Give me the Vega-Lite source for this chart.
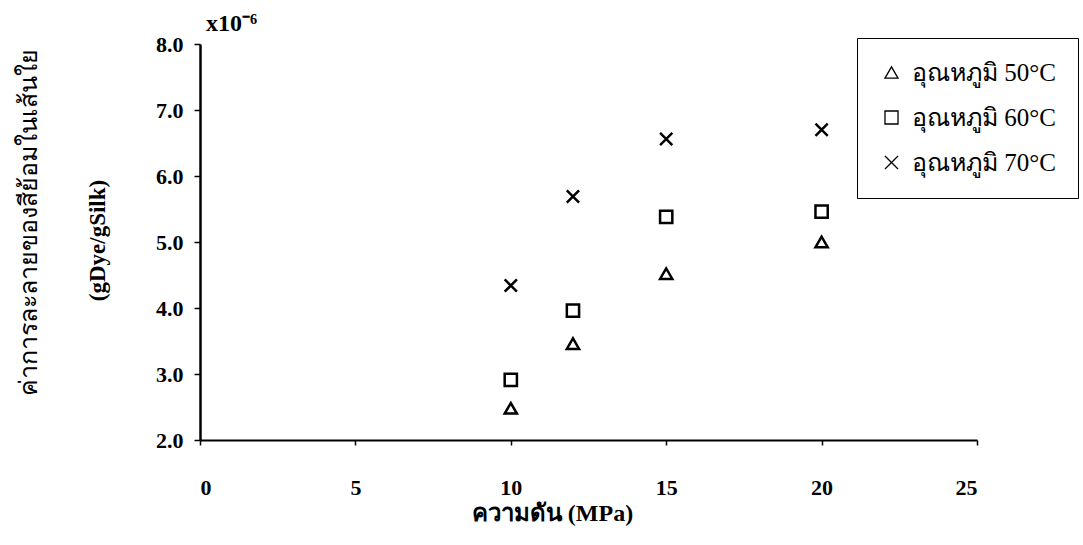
{
  "$schema": "https://vega.github.io/schema/vega-lite/v6.json",
  "width": 777,
  "height": 396,
  "autosize": {"type": "none"},
  "padding": {"left": 200, "top": 44, "right": 106, "bottom": 105},
  "background": "white",
  "title": {
    "text": "x10⁻⁶",
    "anchor": "start",
    "frame": "group",
    "font": "Liberation Serif",
    "fontSize": 24,
    "fontWeight": "bold",
    "color": "black",
    "offset": 10,
    "dx": 6,
    "dy": 13
  },
  "data": {
    "values": [
      {"pressure": 10, "solubility": 2.48, "series": "อุณหภูมิ 50°C"},
      {"pressure": 12, "solubility": 3.46, "series": "อุณหภูมิ 50°C"},
      {"pressure": 15, "solubility": 4.52, "series": "อุณหภูมิ 50°C"},
      {"pressure": 20, "solubility": 5.0, "series": "อุณหภูมิ 50°C"},
      {"pressure": 10, "solubility": 2.91, "series": "อุณหภูมิ 60°C"},
      {"pressure": 12, "solubility": 3.96, "series": "อุณหภูมิ 60°C"},
      {"pressure": 15, "solubility": 5.38, "series": "อุณหภูมิ 60°C"},
      {"pressure": 20, "solubility": 5.46, "series": "อุณหภูมิ 60°C"},
      {"pressure": 10, "solubility": 4.34, "series": "อุณหภูมิ 70°C"},
      {"pressure": 12, "solubility": 5.69, "series": "อุณหภูมิ 70°C"},
      {"pressure": 15, "solubility": 6.56, "series": "อุณหภูมิ 70°C"},
      {"pressure": 20, "solubility": 6.7, "series": "อุณหภูมิ 70°C"}
    ]
  },
  "encoding": {
    "x": {
      "field": "pressure",
      "type": "quantitative",
      "scale": {"domain": [0, 25], "nice": false},
      "axis": {
        "values": [0, 5, 10, 15, 20, 25],
        "title": "ความดัน (MPa)",
        "grid": false,
        "domainColor": "black",
        "domainWidth": 2,
        "tickColor": "black",
        "tickWidth": 1.5,
        "tickSize": 5,
        "labelFont": "Liberation Serif",
        "labelFontWeight": "bold",
        "labelFontSize": 22,
        "labelColor": "black",
        "labelPadding": 32,
        "titleFont": "Liberation Serif",
        "titleFontWeight": "bold",
        "titleFontSize": 24,
        "titleColor": "black",
        "titleX": 352,
        "titlePadding": 3
      }
    }
  },
  "layer": [
    {
      "mark": {"type": "point", "filled": false, "stroke": "black", "strokeWidth": 2.5, "opacity": 1, "size": 150},
      "encoding": {
        "y": {
          "field": "solubility",
          "type": "quantitative",
          "scale": {"domain": [2, 8], "nice": false, "zero": false},
          "axis": {
            "orient": "left",
            "values": [2, 3, 4, 5, 6, 7, 8],
            "format": ".1f",
            "title": "(gDye/gSilk)",
            "grid": false,
            "domainColor": "black",
            "domainWidth": 2.5,
            "tickColor": "black",
            "tickWidth": 1.5,
            "tickSize": 6,
            "labelFont": "Liberation Serif",
            "labelFontWeight": "bold",
            "labelFontSize": 22,
            "labelColor": "black",
            "labelPadding": 11,
            "titleFont": "Liberation Serif",
            "titleFontWeight": "bold",
            "titleFontSize": 23,
            "titleColor": "black",
            "titleAngle": -90,
            "titleAlign": "center",
            "titleBaseline": "middle",
            "titleX": -103,
            "titleY": 196
          }
        },
        "shape": {
          "field": "series",
          "type": "nominal",
          "scale": {
            "domain": ["อุณหภูมิ 50°C", "อุณหภูมิ 60°C", "อุณหภูมิ 70°C"],
            "range": ["triangle-up", "square", "M-1,-1L1,1M-1,1L1,-1"]
          },
          "legend": {
            "title": null,
            "orient": "none",
            "legendX": 657,
            "legendY": -6,
            "strokeColor": "black",
            "fillColor": "white",
            "padding": 22,
            "rowPadding": 19,
            "labelFont": "Liberation Serif",
            "labelFontSize": 25,
            "labelColor": "black",
            "labelOffset": 8,
            "symbolSize": 170,
            "symbolStrokeColor": "black",
            "symbolStrokeWidth": 1.3,
            "symbolFillColor": "transparent"
          }
        }
      }
    },
    {
      "mark": {"type": "point", "opacity": 0},
      "encoding": {
        "y": {
          "field": "solubility",
          "type": "quantitative",
          "scale": {"domain": [2, 8], "nice": false, "zero": false},
          "axis": {
            "orient": "left",
            "title": "ค่าการละลายของสีย้อมในเส้นใย",
            "labels": false,
            "ticks": false,
            "domain": false,
            "grid": false,
            "titleFont": "DejaVu Sans",
            "titleFontWeight": "normal",
            "titleFontSize": 25,
            "titleColor": "black",
            "titleAngle": -90,
            "titleAlign": "center",
            "titleBaseline": "middle",
            "titleX": -172,
            "titleY": 178
          }
        }
      }
    }
  ],
  "resolve": {"axis": {"y": "independent"}},
  "config": {"view": {"stroke": null}}
}
